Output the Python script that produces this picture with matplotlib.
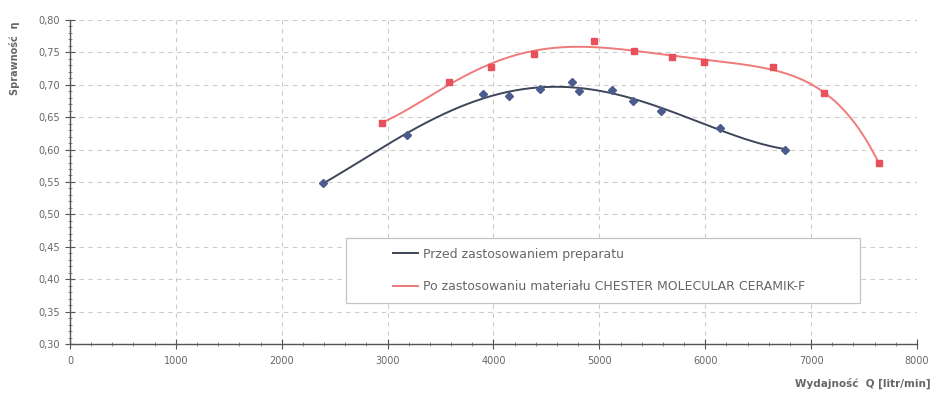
import numpy as np
import matplotlib.pyplot as plt
from matplotlib.patches import Rectangle
from matplotlib.ticker import MultipleLocator, FuncFormatter

# measured points, before treatment
before_q = [2390, 3180, 3900, 4145, 4440, 4740, 4810, 5115, 5320, 5580, 6140, 6750]
before_eff = [0.548, 0.623, 0.686, 0.683, 0.694, 0.704, 0.690, 0.692, 0.675, 0.660, 0.634, 0.600]

# measured points, after coating
after_q = [2950, 3580, 3980, 4380, 4950, 5325, 5690, 5985, 6640, 7120, 7640]
after_eff = [0.641, 0.705, 0.728, 0.748, 0.767, 0.752, 0.743, 0.735, 0.727, 0.687, 0.579]

label_before = "Przed zastosowaniem preparatu"
label_after = "Po zastosowaniu materiału CHESTER MOLECULAR CERAMIK-F"

BLUE_LINE = "#3d4658"
BLUE_MARK = "#4b5b8c"
RED_LINE = "#f07a7a"
RED_MARK = "#e8505c"
TXT = "#666666"


def trend(x, y, deg):
    # polynomial trend line like the spreadsheet one
    coef = np.polyfit(x, y, deg)
    xs = np.linspace(min(x), max(x), 300)
    return xs, np.polyval(coef, xs)


fig = plt.figure(figsize=(9.34, 3.93), dpi=100)
ax = fig.add_axes([0.0749, 0.1247, 0.9069, 0.8245])

xs, ys = trend(before_q, before_eff, 4)
ax.plot(xs, ys, color=BLUE_LINE, lw=1.4, label=label_before, zorder=3)
ax.plot(before_q, before_eff, ls="none", marker="D", ms=3.8,
        color=BLUE_MARK, zorder=4)

xs, ys = trend(after_q, after_eff, 5)
ax.plot(xs, ys, color=RED_LINE, lw=1.4, label=label_after, zorder=3)
ax.plot(after_q, after_eff, ls="none", marker="s", ms=4.5,
        color=RED_MARK, zorder=4)

ax.set_xlim(0, 8000)
ax.set_ylim(0.30, 0.80)
ax.xaxis.set_major_locator(MultipleLocator(1000))
ax.xaxis.set_minor_locator(MultipleLocator(200))
ax.yaxis.set_major_locator(MultipleLocator(0.05))
ax.yaxis.set_minor_locator(MultipleLocator(0.01))
ax.yaxis.set_major_formatter(FuncFormatter(lambda v, p: f"{v:.2f}".replace(".", ",")))

ax.grid(True, which="major", ls=(0, (4, 4)), color="#cccccc", lw=0.8)
for s in ["top", "right"]:
    ax.spines[s].set_visible(False)
for s in ["left", "bottom"]:
    ax.spines[s].set_color("#555555")
    ax.spines[s].set_linewidth(1.0)
ax.tick_params(which="major", direction="inout", length=7, color="#555555",
               labelsize=7, labelcolor=TXT)
ax.tick_params(which="minor", direction="inout", length=3, color="#777777")
ax.tick_params(axis="x", pad=5)

fig.text(0.016, 0.852, "Sprawność  η", rotation=90, ha="center", va="center",
         fontsize=7, color=TXT, fontweight="bold")
fig.text(0.996, 0.025, "Wydajność  Q [litr/min]", ha="right", va="center",
         fontsize=7.5, color=TXT, fontweight="bold")

# legend frame drawn separately so the entries can be indented
box = Rectangle((0.3259, 0.1265), 0.6068, 0.2005, transform=ax.transAxes,
                facecolor="white", edgecolor="#c4c4c4", lw=0.9, zorder=5)
ax.add_patch(box)
leg = ax.legend(loc="center left", bbox_to_anchor=(0.3813, 0.2269),
                fontsize=9, frameon=False, borderpad=0, borderaxespad=0,
                labelspacing=1.55, handlelength=2.0, handletextpad=0.4)
for t in leg.get_texts():
    t.set_color(TXT)
leg.set_zorder(6)

fig.savefig("out.png", dpi=100)
